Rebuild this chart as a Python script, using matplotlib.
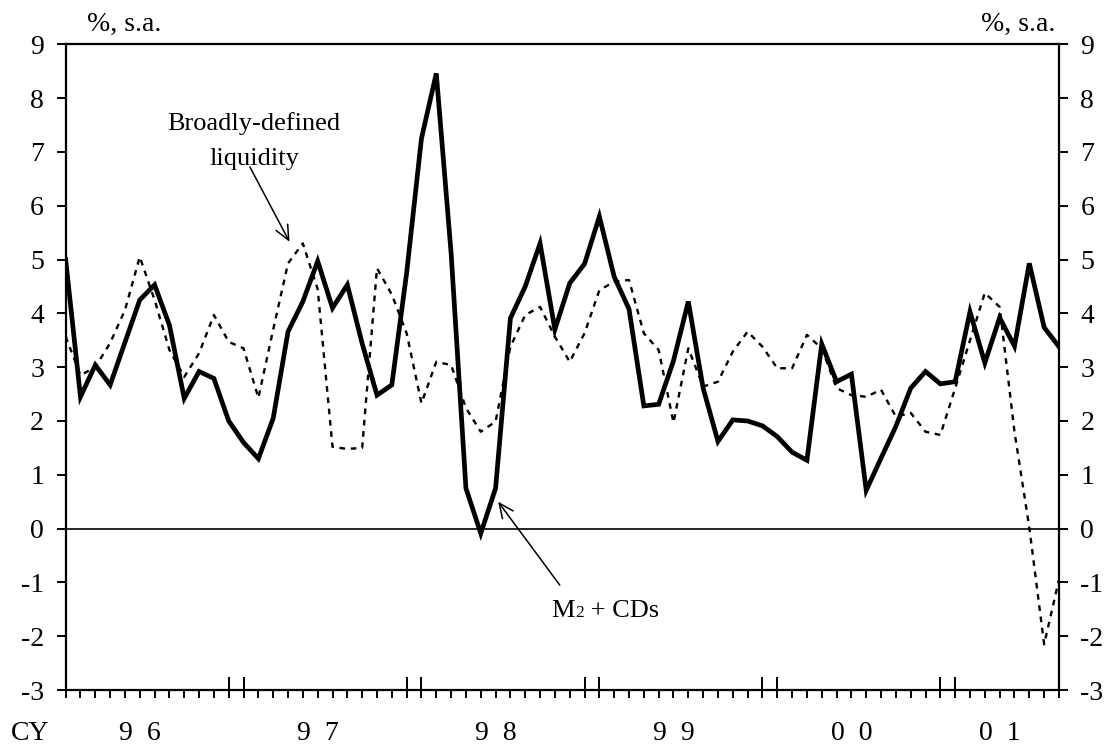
import matplotlib
matplotlib.use("Agg")
import matplotlib.pyplot as plt
import matplotlib.transforms as mtransforms
import numpy as np

plt.rcParams['font.family'] = ['Liberation Serif', 'DejaVu Serif']
plt.rcParams['axes.unicode_minus'] = False

# Monthly growth rates, Jan 1996 - Aug 2001 (%, s.a.)
year_labels = ["9  6", "9  7", "9  8", "9  9", "0  0", "0  1"]
year_label_pos = [5, 17, 29, 41, 53, 63]
year_edges = [11, 12, 23, 24, 35, 36, 47, 48, 59, 60]

m2_cds = [5.00, 2.45, 3.04, 2.67, 3.46, 4.25, 4.53, 3.78, 2.42, 2.92, 2.79, 2.00,
          1.60, 1.30, 2.05, 3.66, 4.22, 4.97, 4.10, 4.53, 3.44, 2.48, 2.67, 4.75,
          7.25, 8.46, 5.12, 0.75, -0.09, 0.75, 3.91, 4.50, 5.30, 3.70, 4.56, 4.92,
          5.80, 4.68, 4.08, 2.28, 2.31, 3.12, 4.22, 2.61, 1.62, 2.02, 2.00, 1.91,
          1.71, 1.42, 1.27, 3.43, 2.73, 2.87, 0.71, 1.31, 1.90, 2.61, 2.92, 2.69,
          2.73, 4.03, 3.08, 3.92, 3.39, 4.93, 3.74, 3.38]

liquidity = [3.57, 2.85, 3.00, 3.45, 4.06, 5.05, 4.25, 3.32, 2.82, 3.26, 3.97, 3.47,
             3.35, 2.43, 3.70, 4.93, 5.30, 4.45, 1.52, 1.48, 1.50, 4.84, 4.35, 3.63,
             2.33, 3.10, 3.04, 2.24, 1.80, 1.99, 3.38, 3.97, 4.12, 3.57, 3.10, 3.63,
             4.43, 4.59, 4.62, 3.63, 3.32, 1.97, 3.35, 2.64, 2.73, 3.29, 3.66, 3.38,
             2.98, 2.98, 3.60, 3.35, 2.61, 2.48, 2.45, 2.58, 2.08, 2.15, 1.80, 1.74,
             2.61, 3.50, 4.38, 4.12, 1.80, 0.02, -2.15, -0.95]

months = np.arange(len(m2_cds))

fig = plt.figure(figsize=(11.07, 7.45), dpi=100)
ax = fig.add_axes([0.0593, 0.0738, 0.8973, 0.8667])

ax.plot(months, liquidity, color='black', lw=1.7, linestyle=(0, (2.4, 2.4)))
ax.plot(months, m2_cds, color='black', lw=3.4, solid_joinstyle='miter')
ax.axhline(0, color='black', lw=1.2)

ax.set_xlim(0, len(months) - 1)
ax.set_ylim(-3, 9)

for s in ax.spines.values():
    s.set_linewidth(1.6)

# y axis: labels on both sides
ax.set_yticks(np.arange(-3, 10, 1))
ax.tick_params(axis='y', which='major', direction='out', length=6.5, width=1.4,
               labelsize=20, pad=9, left=True, right=True,
               labelleft=True, labelright=True)

# x axis: monthly ticks, long ticks at year boundaries
ax.xaxis.remove_overlapping_locs = False
ax.set_xticks(months, minor=True)
ax.set_xticks(year_edges)
ax.tick_params(axis='x', which='minor', direction='out', length=6, width=1.4)
ax.tick_params(axis='x', which='major', direction='in', length=9.5, width=1.4,
               labelbottom=False)

xform = mtransforms.blended_transform_factory(ax.transData, ax.transAxes)
for pos, lab in zip(year_label_pos, year_labels):
    ax.text(pos, -0.068, lab, transform=xform, ha='center', va='center', fontsize=20)
ax.text(-0.036, -0.068, "CY", transform=ax.transAxes, ha='center', va='center',
        fontsize=20)

fig.text(87 / 1107, 1 - 24 / 745, "%, s.a.", ha='left', va='center', fontsize=20)
fig.text(1055 / 1107, 1 - 24 / 745, "%, s.a.", ha='right', va='center', fontsize=20)

# Series annotations
ax.text(12.7, 7.2, "Broadly-defined\nliquidity", ha='center', va='center',
        multialignment='center', fontsize=19, linespacing=1.75)
ax.annotate("", xy=(15.1, 5.33), xytext=(12.43, 6.72),
            arrowprops=dict(arrowstyle='->,head_length=0.55,head_width=0.25',
                            color='black', lw=1.1, shrinkA=0, shrinkB=0,
                            mutation_scale=19))
ax.annotate("", xy=(29.17, 0.5), xytext=(33.33, -1.05),
            arrowprops=dict(arrowstyle='->,head_length=0.55,head_width=0.25',
                            color='black', lw=1.1, shrinkA=0, shrinkB=0,
                            mutation_scale=19))

t_m = ax.text(32.77, -1.64, "M", ha='left', va='baseline', fontsize=19)
fig.canvas.draw()
renderer = fig.canvas.get_renderer()
w_m = t_m.get_window_extent(renderer).width
t_2 = ax.text(32.77, -1.64, "2", ha='left', va='baseline', fontsize=12.5,
              transform=mtransforms.offset_copy(ax.transData, fig=fig, x=w_m,
                                                y=0, units='dots'))
w_2 = t_2.get_window_extent(renderer).width
ax.text(32.77, -1.64, " + CDs", ha='left', va='baseline', fontsize=19,
        transform=mtransforms.offset_copy(ax.transData, fig=fig, x=w_m + w_2,
                                          y=0, units='dots'))

fig.savefig("out.png", dpi=100)
